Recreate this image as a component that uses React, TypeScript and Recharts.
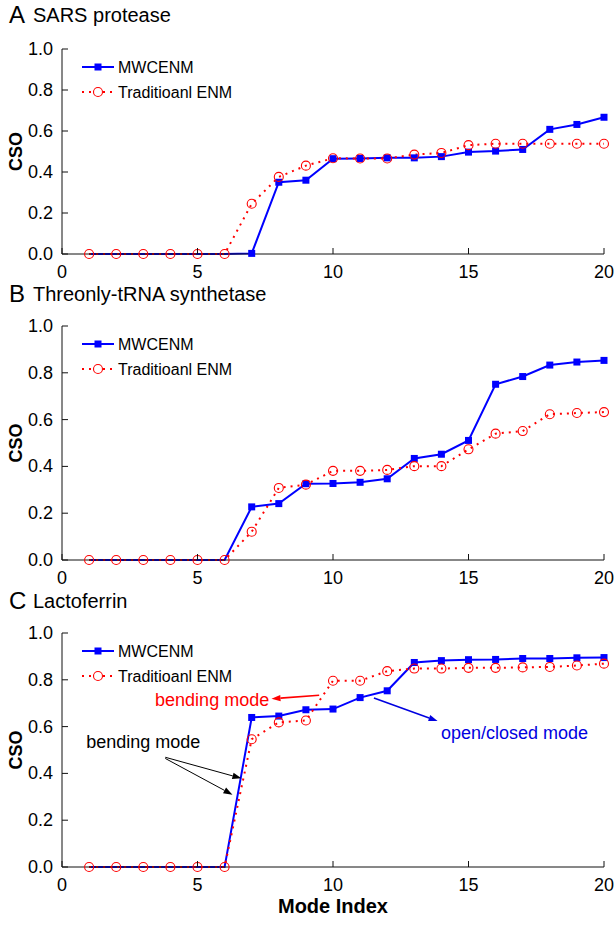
import React from "react";
import { LineChart, Line, XAxis, YAxis, ReferenceLine, ReferenceDot, Legend } from "recharts";

// mode index on the x axis
const modeIndex = [1, 2, 3, 4, 5, 6, 7, 8, 9, 10, 11, 12, 13, 14, 15, 16, 17, 18, 19, 20];

// A: SARS protease
const sarsMwcenm = [0, 0, 0, 0, 0, 0, 0.003, 0.35, 0.36, 0.465, 0.466, 0.469, 0.469, 0.475, 0.497, 0.502, 0.51, 0.608, 0.632, 0.667];
const sarsTraditional = [0, 0, 0, 0, 0, 0, 0.245, 0.376, 0.431, 0.467, 0.466, 0.466, 0.485, 0.493, 0.531, 0.538, 0.538, 0.538, 0.538, 0.538];

// B: Threonly-tRNA synthetase
const thrMwcenm = [0, 0, 0, 0, 0, 0, 0.227, 0.241, 0.326, 0.327, 0.332, 0.347, 0.434, 0.452, 0.511, 0.751, 0.784, 0.833, 0.846, 0.853];
const thrTraditional = [0, 0, 0, 0, 0, 0, 0.121, 0.308, 0.322, 0.381, 0.381, 0.385, 0.401, 0.401, 0.473, 0.54, 0.551, 0.623, 0.628, 0.632];

// C: Lactoferrin
const lacMwcenm = [0, 0, 0, 0, 0, 0, 0.639, 0.645, 0.672, 0.675, 0.724, 0.753, 0.874, 0.882, 0.886, 0.887, 0.891, 0.891, 0.894, 0.895];
const lacTraditional = [0, 0, 0, 0, 0, 0, 0.546, 0.618, 0.626, 0.796, 0.796, 0.837, 0.848, 0.848, 0.851, 0.851, 0.853, 0.855, 0.861, 0.869];

const xTicks = [0, 5, 10, 15, 20];
const yTicks = [0, 0.2, 0.4, 0.6, 0.8, 1.0];
const seriesNames = ["MWCENM", "Traditioanl ENM"];

// annotations of panel C (data coords)
const lacNotes = [
  { text: "bending mode", x: 5.54, y: 0.714, color: "#ff0000" },
  { text: "bending mode", x: 3.0, y: 0.534, color: "#000000" },
  { text: "open/closed mode", x: 16.7, y: 0.572, color: "#0000e0" },
];
const lacArrows = [
  { from: [9.49, 0.734], to: [7.73, 0.719], color: "#ff0000", w: 1.6 },
  { from: [3.81, 0.469], to: [6.62, 0.379], color: "#000000", w: 1 },
  { from: [3.81, 0.464], to: [6.29, 0.309], color: "#000000", w: 1 },
  { from: [11.51, 0.722], to: [13.86, 0.624], color: "#0000e0", w: 1.6 },
];

const FONT = "'Liberation Sans', Arial, Helvetica, sans-serif";
const BLUE = "#0000ff";
const RED = "#ff0000";
const AXIS = "#111";
const PLOT_L = 62;
const PLOT_R = 604;
const TICK = 6;

function SquareDot(props: any) {
  const { cx, cy, payload, index } = props;
  if (cx == null || cy == null || payload.mw === 0) return <g key={`s${index}`} />;
  return <rect key={`s${index}`} x={cx - 3.5} y={cy - 3.5} width={7} height={7} fill={BLUE} />;
}

function CircleDot(props: any) {
  const { cx, cy, index } = props;
  if (cx == null || cy == null) return <g key={`c${index}`} />;
  return <circle key={`c${index}`} cx={cx} cy={cy} r={4.5} fill="none" stroke={RED} strokeWidth={1.1} />;
}

function LegendBox() {
  return (
    <svg width={200} height={48} style={{ display: "block" }}>
      <line x1={2} x2={34} y1={10} y2={10} stroke={BLUE} strokeWidth={2} />
      <rect x={14.5} y={6.5} width={7} height={7} fill={BLUE} />
      <text x={38} y={10} dominantBaseline="central" fontSize={16} fontFamily={FONT} fill="#000">
        {seriesNames[0]}
      </text>
      <line x1={2} x2={34} y1={35} y2={35} stroke={RED} strokeWidth={2} strokeDasharray="2 5" />
      <circle cx={18} cy={35} r={4.5} fill="#fff" stroke={RED} strokeWidth={1.1} />
      <text x={38} y={35} dominantBaseline="central" fontSize={16} fontFamily={FONT} fill="#000">
        {seriesNames[1]}
      </text>
    </svg>
  );
}

function CsoLabel({ cy }: any) {
  return (
    <text
      x={16}
      y={cy}
      transform={`rotate(-90 16 ${cy})`}
      textAnchor="middle"
      dominantBaseline="central"
      fontSize={18}
      fontWeight="bold"
      fontFamily={FONT}
      fill="#000"
    >
      CSO
    </text>
  );
}

const arrowShape = (color: string, w: number) => (p: any) => {
  const { x1, y1, x2, y2 } = p;
  const a = Math.atan2(y2 - y1, x2 - x1);
  const L = 9;
  const W = 3.2;
  const bx = x2 - L * Math.cos(a);
  const by = y2 - L * Math.sin(a);
  const pts = `${x2},${y2} ${bx - W * Math.sin(a)},${by + W * Math.cos(a)} ${bx + W * Math.sin(a)},${by - W * Math.cos(a)}`;
  return (
    <g>
      <line x1={x1} y1={y1} x2={bx} y2={by} stroke={color} strokeWidth={w} />
      <polygon points={pts} fill={color} />
    </g>
  );
};

const noteShape = (text: string, color: string) => (p: any) => (
  <text x={p.cx} y={p.cy} textAnchor="middle" dominantBaseline="central" fontSize={18} fontFamily={FONT} fill={color}>
    {text}
  </text>
);

// tick renderers: label + inward tick mark, positions come from the axis scale
const bottomTick = (plotBottom: number) => (p: any) => (
  <g>
    <line x1={p.x} x2={p.x} y1={plotBottom} y2={plotBottom - TICK} stroke={AXIS} />
    <text x={p.x} y={plotBottom + 11} dy="0.71em" textAnchor="middle" fontSize={18} fontFamily={FONT} fill="#000">
      {p.payload.value}
    </text>
  </g>
);

const topTick = (plotTop: number) => (p: any) => (
  <line x1={p.x} x2={p.x} y1={plotTop} y2={plotTop + TICK} stroke={AXIS} />
);

const leftTick = (p: any) => (
  <g>
    <line x1={PLOT_L} x2={PLOT_L + TICK} y1={p.y} y2={p.y} stroke={AXIS} />
    <text x={PLOT_L - 9} y={p.y} textAnchor="end" dominantBaseline="central" fontSize={18} fontFamily={FONT} fill="#000">
      {Number(p.payload.value).toFixed(1)}
    </text>
  </g>
);

const rightTick = (p: any) => <line x1={PLOT_R} x2={PLOT_R - TICK} y1={p.y} y2={p.y} stroke={AXIS} />;

type PanelProps = {
  chartTop: number;
  plotTop: number;
  plotH: number;
  letter: string;
  title: string;
  titleY: number;
  mw: number[];
  trad: number[];
  notes?: typeof lacNotes;
  arrows?: typeof lacArrows;
  xLabel?: string;
};

function Panel({ chartTop, plotTop, plotH, letter, title, titleY, mw, trad, notes = [], arrows = [], xLabel }: PanelProps) {
  const data = modeIndex.map((m, i) => ({ mode: m, mw: mw[i], trad: trad[i] }));
  const axisH = xLabel ? 58 : 32;
  const marginTop = plotTop - chartTop;
  const axisLine = { stroke: AXIS, strokeWidth: 1 };

  return (
    <>
      <div style={{ position: "absolute", left: 9, top: titleY - 15, fontFamily: FONT, fontSize: 24, lineHeight: "30px", color: "#000" }}>
        {letter}
      </div>
      <div style={{ position: "absolute", left: 33, top: titleY - 13, fontFamily: FONT, fontSize: 20, lineHeight: "26px", color: "#000" }}>
        {title}
      </div>
      <div style={{ position: "absolute", left: 0, top: chartTop }}>
        <LineChart width={614} height={marginTop + plotH + axisH} data={data} margin={{ top: marginTop, right: 614 - PLOT_R, bottom: 0, left: 0 }}>
          <XAxis
            dataKey="mode"
            type="number"
            domain={[0, 20]}
            ticks={xTicks}
            height={axisH}
            axisLine={axisLine}
            tickLine={false}
            tick={bottomTick(marginTop + plotH)}
            label={
              xLabel
                ? { value: xLabel, position: "insideBottom", offset: 12, fontSize: 20, fontWeight: "bold", fill: "#000", fontFamily: FONT }
                : undefined
            }
          />
          <XAxis
            xAxisId="top"
            orientation="top"
            type="number"
            domain={[0, 20]}
            ticks={xTicks}
            height={0}
            axisLine={axisLine}
            tickLine={false}
            tick={topTick(marginTop)}
          />
          <YAxis
            type="number"
            domain={[0, 1]}
            ticks={yTicks}
            width={PLOT_L}
            axisLine={axisLine}
            tickLine={false}
            tick={leftTick}
            label={<CsoLabel cy={marginTop + plotH / 2} />}
          />
          <YAxis
            yAxisId="right"
            orientation="right"
            type="number"
            domain={[0, 1]}
            ticks={yTicks}
            width={0}
            axisLine={axisLine}
            tickLine={false}
            tick={rightTick}
          />
          <Legend
            layout="horizontal"
            verticalAlign="middle"
            align="center"
            content={() => <LegendBox />}
            wrapperStyle={{ left: 80, top: marginTop + 8, width: 200 }}
          />
          <Line
            dataKey="mw"
            name={seriesNames[0]}
            stroke={BLUE}
            strokeWidth={2}
            dot={(p: any) => <SquareDot {...p} />}
            activeDot={false}
            isAnimationActive={false}
          />
          <Line
            dataKey="trad"
            name={seriesNames[1]}
            stroke={RED}
            strokeWidth={2}
            strokeDasharray="2 5"
            dot={(p: any) => <CircleDot {...p} />}
            activeDot={false}
            isAnimationActive={false}
          />
          {arrows.map((a, i) => (
            <ReferenceLine
              key={`a${i}`}
              segment={[
                { x: a.from[0], y: a.from[1] },
                { x: a.to[0], y: a.to[1] },
              ]}
              shape={arrowShape(a.color, a.w)}
              ifOverflow="visible"
            />
          ))}
          {notes.map((n, i) => (
            <ReferenceDot key={`n${i}`} x={n.x} y={n.y} r={1} shape={noteShape(n.text, n.color)} ifOverflow="visible" />
          ))}
        </LineChart>
      </div>
    </>
  );
}

export default function App() {
  return (
    <div style={{ position: "absolute", left: 0, top: 0, width: 614, height: 927, background: "#fff", overflow: "hidden" }}>
      <Panel chartTop={0} plotTop={49} plotH={205} letter="A" title="SARS protease" titleY={15} mw={sarsMwcenm} trad={sarsTraditional} />
      <Panel chartTop={290} plotTop={326} plotH={234} letter="B" title="Threonly-tRNA synthetase" titleY={294} mw={thrMwcenm} trad={thrTraditional} />
      <Panel
        chartTop={600}
        plotTop={633}
        plotH={234}
        letter="C"
        title="Lactoferrin"
        titleY={601}
        mw={lacMwcenm}
        trad={lacTraditional}
        notes={lacNotes}
        arrows={lacArrows}
        xLabel="Mode Index"
      />
    </div>
  );
}
